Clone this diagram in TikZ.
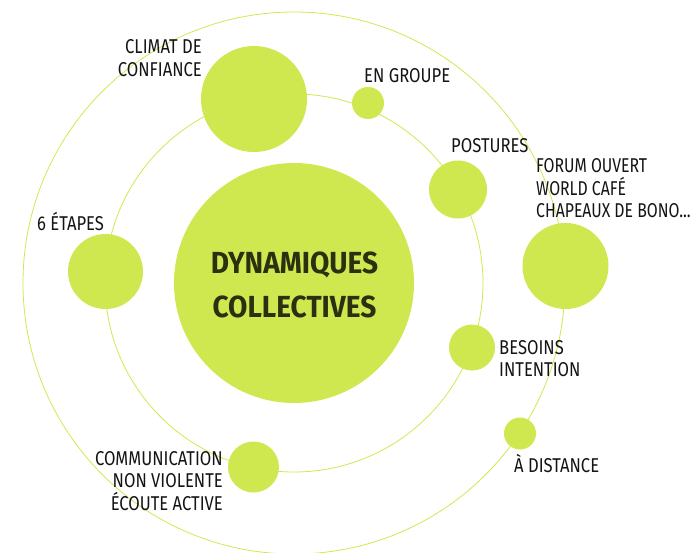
\documentclass[tikz,border=0pt]{standalone}
\usepackage{fontspec}
\setmainfont{Fira Sans}[FakeStretch=0.83]
\newfontfamily\titlefont{Fira Sans}[FakeStretch=0.92]
\newfontfamily\narrowfont{Fira Sans}[FakeStretch=0.79]
\definecolor{lime}{RGB}{208,232,80}
\definecolor{olive}{RGB}{43,48,16}
\definecolor{ink}{RGB}{20,20,20}
\tikzset{
  orbit/.style={draw=lime, line width=0.8pt},
  blob/.style={circle, fill=lime, inner sep=0pt, minimum size=#1},
  lbl/.style={inner sep=0pt, text=ink, font=\fontsize{20}{22.6}\selectfont},
  title/.style={inner sep=0pt, text=olive, align=center, font=\titlefont\bfseries\fontsize{30.5}{44}\selectfont}
}
\begin{document}
\begin{tikzpicture}[x=1pt,y=-1pt]
\useasboundingbox (0,0) rectangle (694,552);
\coordinate (c) at (294,283);
\draw[orbit] (c) circle[radius=271];
\draw[orbit] (c) circle[radius=189];
% central circle
\node[blob=240pt] (core) at (c) {};
% inner orbit circles
\node[blob=106pt] (climat) at (254,99) {};
\node[blob=32pt] (groupe) at (368,103) {};
\node[blob=58pt] (postures) at (458,189.5) {};
\node[blob=46pt] (besoins) at (472,347.5) {};
\node[blob=51pt] (cnv) at (253.5,467) {};
\node[blob=75pt] (etapes) at (105.5,271.5) {};
% outer orbit circles
\node[blob=86pt] (forum) at (565.5,266) {};
\node[blob=32pt] (distance) at (520,433.5) {};
% labels
\node[title, anchor=north] (ttl) at (294.5,252) {DYNAMIQUES\\COLLECTIVES};
\node[lbl, anchor=north east, align=right] (lclimat) at (202,39.3) {CLIMAT DE\\CONFIANCE};
\node[lbl, anchor=north west] (lgroupe) at (364,68) {EN GROUPE};
\node[lbl, anchor=north west] (lpostures) at (451,138) {POSTURES};
\node[lbl, anchor=north west, align=left, font=\narrowfont\fontsize{20}{22.6}\selectfont] (lforum) at (536,158.5) {FORUM OUVERT\\WORLD CAFÉ\\CHAPEAUX DE BONO...};
\node[lbl, anchor=base west] (letapes) at (37,230) {6 ÉTAPES};
\node[lbl, anchor=north west, align=left] (lbesoins) at (499,340) {BESOINS\\INTENTION};
\node[lbl, anchor=base west] (ldistance) at (514,472) {À DISTANCE};
\node[lbl, anchor=north east, align=right] (lcnv) at (223,451) {COMMUNICATION\\NON VIOLENTE\\ÉCOUTE ACTIVE};
\end{tikzpicture}
\end{document}
